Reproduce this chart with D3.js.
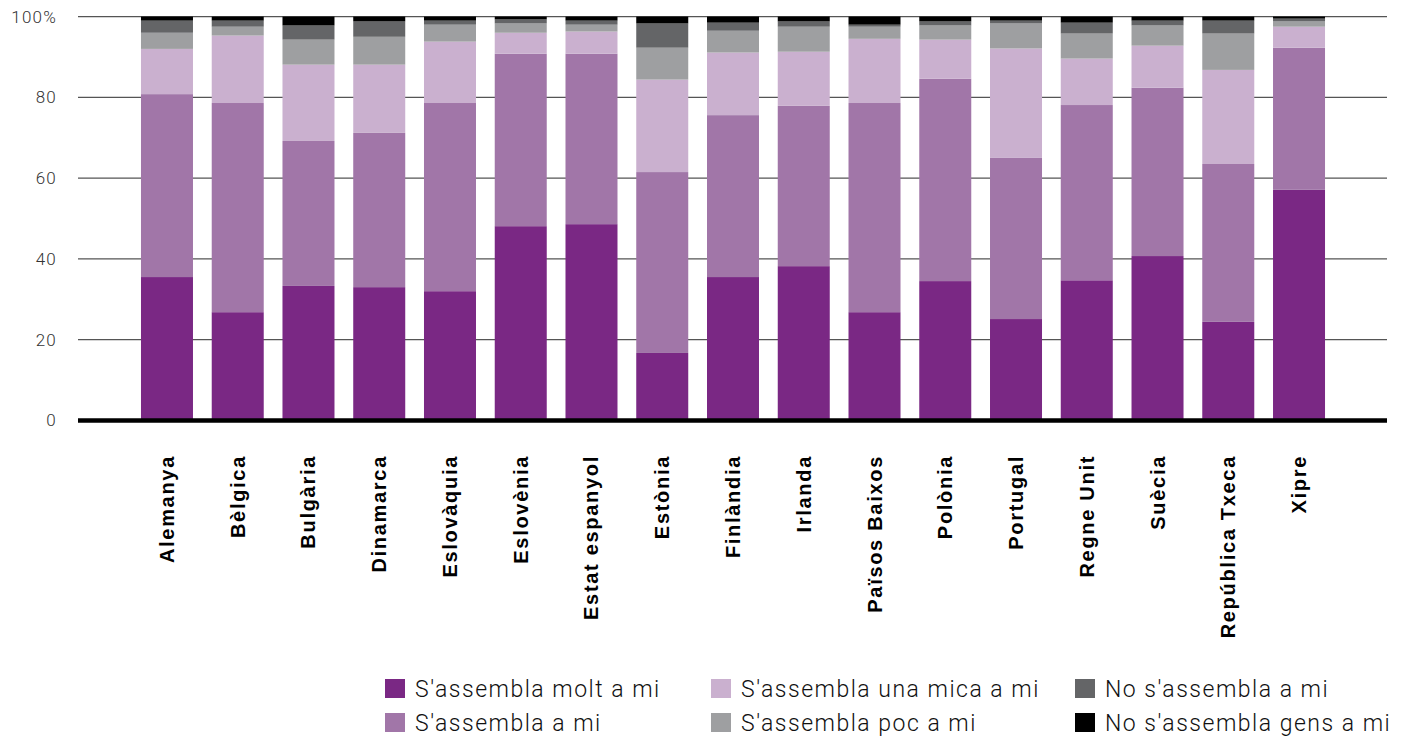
<!DOCTYPE html>
<html>
<head>
<meta charset="utf-8">
<script src="https://cdn.jsdelivr.net/npm/d3@7"></script>
<style>
  body { margin: 0; background: #fff; }
  .ytick { font-family: Roboto, sans-serif; font-weight: 300; font-size: 17px; fill: #333; letter-spacing: 1.2px; }
  .xlab { font-family: "Liberation Sans", Arial, sans-serif; font-weight: bold; font-size: 20px; fill: #000; letter-spacing: 1.7px; }
  .leg { font-family: Roboto, sans-serif; font-weight: 300; font-size: 23px; fill: #111; letter-spacing: 1.5px; }
</style>
</head>
<body>
<div id="chart"></div>
<script>
// countries on the x axis
let countries = ["Alemanya", "Bèlgica", "Bulgària", "Dinamarca", "Eslovàquia", "Eslovènia",
    "Estat espanyol", "Estònia", "Finlàndia", "Irlanda", "Països Baixos", "Polònia",
    "Portugal", "Regne Unit", "Suècia", "República Txeca", "Xipre"];

// series names (bottom to top)
let seriesNames = ["S'assembla molt a mi", "S'assembla a mi", "S'assembla una mica a mi",
    "S'assembla poc a mi", "No s'assembla a mi", "No s'assembla gens a mi"];

let seriesColors = ["#7a2884", "#a176a8", "#cab0cf", "#9e9fa1", "#646567", "#000000"];

// percentages per series, one value per country
let moltAMi     = [35.5, 26.8, 33.3, 33.0, 32.0, 48.1, 48.6, 16.7, 35.5, 38.2, 26.8, 34.5, 25.1, 34.7, 40.7, 24.4, 57.1];
let aMi         = [45.3, 51.8, 35.9, 38.2, 46.6, 42.7, 42.2, 44.8, 40.1, 39.7, 51.8, 50.1, 39.9, 43.4, 41.7, 39.1, 35.2];
let unaMicaAMi  = [11.2, 16.7, 18.9, 16.9, 15.2, 5.2, 5.5, 22.9, 15.5, 13.4, 15.9, 9.7, 27.1, 11.5, 10.4, 23.3, 5.2];
let pocAMi      = [4.0, 2.2, 6.2, 6.9, 4.2, 2.3, 1.7, 7.9, 5.4, 6.2, 3.0, 3.5, 6.2, 6.2, 5.0, 9.0, 1.3];
let noAMi       = [3.0, 1.5, 3.5, 3.8, 1.0, 1.0, 1.0, 6.0, 2.0, 1.3, 0.5, 1.0, 0.7, 2.7, 1.2, 3.2, 0.7];
let gensAMi     = [1.0, 1.0, 2.2, 1.2, 1.0, 0.7, 1.0, 1.7, 1.5, 1.2, 2.0, 1.2, 1.0, 1.5, 1.0, 1.0, 0.5];

let yTicks = [0, 20, 40, 60, 80, 100];

let seriesValues = [moltAMi, aMi, unaMicaAMi, pocAMi, noAMi, gensAMi];

// build rows for d3.stack
let rows = countries.map(function(c, i) {
    let r = { country: c };
    seriesNames.forEach(function(s, j) { r[s] = seriesValues[j][i]; });
    return r;
});

let width = 1402, height = 738;

let svg = d3.select("#chart")
    .append("svg")
    .attr("width", width)
    .attr("height", height);

let x = d3.scaleBand()
    .domain(countries)
    .range([131.6, 1334.4])
    .paddingInner(0.265)
    .paddingOuter(0.1325);

let y = d3.scaleLinear()
    .domain([0, 100])
    .range([420.4, 16.6]);

let gridLeft = 78, gridRight = 1387;

// gridlines
svg.append("g")
    .selectAll("line")
    .data(yTicks.filter(function(t) { return t > 0; }))
    .enter()
    .append("line")
    .attr("x1", gridLeft)
    .attr("x2", gridRight)
    .attr("y1", function(d) { return y(d); })
    .attr("y2", function(d) { return y(d); })
    .attr("stroke", "#555")
    .attr("stroke-width", 1.4);

// y tick labels
svg.append("g")
    .selectAll("text")
    .data(yTicks)
    .enter()
    .append("text")
    .attr("class", "ytick")
    .attr("x", 57)
    .attr("y", function(d) { return y(d); })
    .attr("dy", "0.35em")
    .attr("text-anchor", "end")
    .text(function(d) { return d === 100 ? "100%" : d; });

// stacked bars
let stacked = d3.stack().keys(seriesNames)(rows);

svg.append("g")
    .selectAll("g")
    .data(stacked)
    .enter()
    .append("g")
    .attr("fill", function(d, i) { return seriesColors[i]; })
    .selectAll("rect")
    .data(function(d) { return d; })
    .enter()
    .append("rect")
    .attr("x", function(d) { return x(d.data.country); })
    .attr("y", function(d) { return y(d[1]); })
    .attr("height", function(d) { return y(d[0]) - y(d[1]); })
    .attr("width", x.bandwidth());

// baseline
svg.append("line")
    .attr("x1", gridLeft)
    .attr("x2", gridRight)
    .attr("y1", y(0))
    .attr("y2", y(0))
    .attr("stroke", "#000")
    .attr("stroke-width", 4.5);

// x labels (rotated)
svg.append("g")
    .selectAll("text")
    .data(countries)
    .enter()
    .append("text")
    .attr("class", "xlab")
    .attr("transform", function(d) {
        return "translate(" + (x(d) + x.bandwidth() / 2) + ",455) rotate(-90)";
    })
    .attr("dy", "0.35em")
    .attr("text-anchor", "end")
    .text(function(d) { return d; });

// legend
let legCols = [385, 711, 1075];
let legRows = [679, 713];

let legend = svg.append("g")
    .selectAll("g")
    .data(seriesNames)
    .enter()
    .append("g")
    .attr("transform", function(d, i) {
        return "translate(" + legCols[Math.floor(i / 2)] + "," + legRows[i % 2] + ")";
    });

legend.append("rect")
    .attr("width", 20)
    .attr("height", 19)
    .attr("fill", function(d, i) { return seriesColors[i]; });

legend.append("text")
    .attr("class", "leg")
    .attr("x", 30)
    .attr("y", 10)
    .attr("dy", "0.35em")
    .text(function(d) { return d; });
</script>
</body>
</html>
